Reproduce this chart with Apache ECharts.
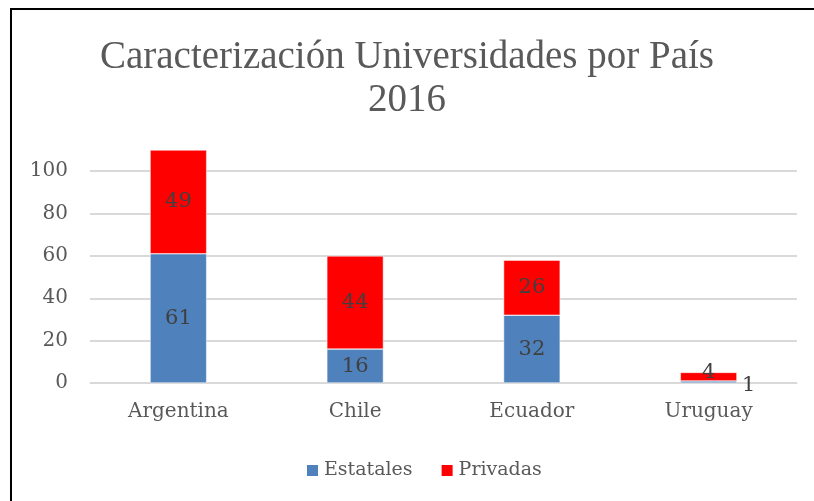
<!DOCTYPE html>
<html>
<head>
<meta charset="utf-8">
<script src="https://cdn.jsdelivr.net/npm/echarts@6/dist/echarts.min.js"></script>
<style>
html, body { margin: 0; padding: 0; background: #fff; }
#main { width: 814px; height: 501px; }
</style>
</head>
<body>
<div id="main"></div>
<script>
// datos
var paises = ['Argentina', 'Chile', 'Ecuador', 'Uruguay'];
var estatales = [61, 16, 32, 1];
var privadas = [49, 44, 26, 4];

var myChart = echarts.init(document.getElementById('main'));

var textGray = '#595959';
var serif = 'DejaVu Serif';

var option = {
    backgroundColor: '#fff',
    animation: false,
    title: {
        text: 'Caracterización Universidades por País\n2016',
        left: 'center',
        top: 31,
        textStyle: {
            fontFamily: 'Liberation Serif',
            fontSize: 39,
            fontWeight: 'normal',
            color: textGray,
            lineHeight: 43
        }
    },
    legend: {
        data: ['Estatales', 'Privadas'],
        top: 456,
        left: 300,
        itemWidth: 13,
        itemHeight: 13,
        itemGap: 27,
        icon: 'rect',
        textStyle: { fontFamily: serif, fontSize: 19, color: textGray }
    },
    grid: {
        left: 90,
        right: 17,
        top: 150,
        bottom: 118,
        containLabel: false
    },
    xAxis: {
        type: 'category',
        data: paises,
        axisLine: { lineStyle: { color: '#d9d9d9', width: 1 } },
        axisTick: { show: false },
        axisLabel: { fontFamily: serif, fontSize: 20, color: textGray, margin: 19 }
    },
    yAxis: {
        type: 'value',
        min: 0,
        max: 110,
        interval: 20,
        axisLine: { show: false },
        axisTick: { show: false },
        axisLabel: { fontFamily: serif, fontSize: 20, color: textGray, margin: 22, showMaxLabel: false },
        splitLine: { showMaxLine: false, lineStyle: { color: '#d9d9d9', width: 2 } }
    },
    series: [
        {
            name: 'Estatales',
            type: 'bar',
            stack: 'total',
            barWidth: '32%',
            data: estatales.map(function (v, i) {
                var d = { value: v };
                if (i === 3) d.label = { position: 'right', offset: [0, 4] };
                return d;
            }),
            itemStyle: { color: '#4f81bd', borderColor: '#ffffff', borderWidth: 0.5 },
            label: { show: true, position: 'inside', fontFamily: serif, fontSize: 21, color: '#404040' }
        },
        {
            name: 'Privadas',
            type: 'bar',
            stack: 'total',
            barWidth: '32%',
            data: privadas.map(function (v, i) {
                var d = { value: v };
                if (i === 3) d.label = { offset: [0, -4] };
                return d;
            }),
            itemStyle: { color: '#ff0000', borderColor: '#ffffff', borderWidth: 0.5 },
            label: { show: true, position: 'inside', fontFamily: serif, fontSize: 21, color: '#404040' }
        }
    ],
    graphic: [
        { type: 'rect', shape: { x: 10, y: 8, width: 2, height: 493 }, style: { fill: '#000' } },
        { type: 'rect', shape: { x: 10, y: 8, width: 804, height: 2 }, style: { fill: '#000' } }
    ]
};

myChart.setOption(option);
</script>
</body>
</html>
